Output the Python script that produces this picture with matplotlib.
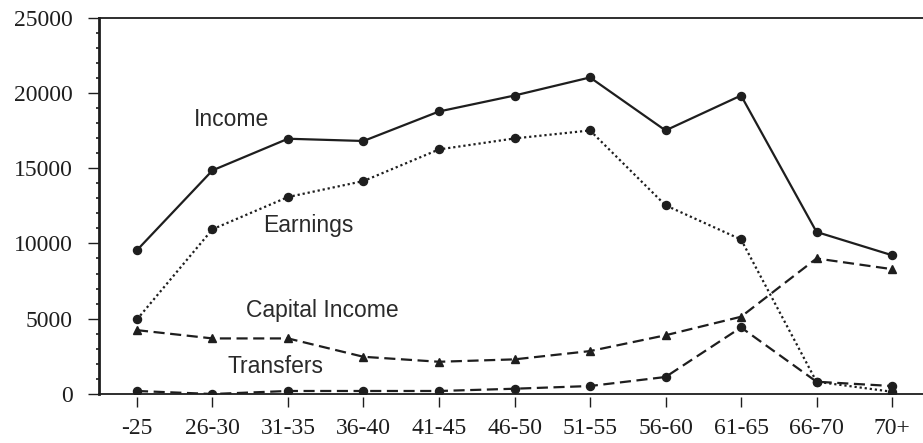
import matplotlib.pyplot as plt
import numpy as np
from matplotlib.ticker import MultipleLocator

# tranches d'âge
ages = ["-25", "26-30", "31-35", "36-40", "41-45", "46-50",
        "51-55", "56-60", "61-65", "66-70", "70+"]

revenu = [9550, 14850, 16950, 16800, 18760, 19820, 21020, 17500, 19820, 10760, 9215]
salaires = [4950, 10940, 13080, 14140, 16240, 16970, 17500, 12530, 10260, 815, 150]
capital = [4240, 3690, 3690, 2470, 2140, 2300, 2850, 3900, 5130, 9000, 8290]
transferts = [200, 0, 200, 200, 200, 350, 530, 1130, 4420, 815, 530]

noir = "#1e1e1e"

fig = plt.figure(figsize=(9.23, 4.43), dpi=100)
ax = fig.add_axes([99 / 923, 49 / 443, 1 - 99 / 923, (394 - 17.5) / 443])

x = np.arange(len(ages))
ax.plot(x, revenu, color=noir, lw=1.6, ls="-", marker="o", ms=5.8)
ax.plot(x, salaires, color=noir, lw=1.6, ls=(0, (1, 1.3)), marker="o", ms=5.8)
ax.plot(x, capital, color=noir, lw=1.6, ls=(0, (5, 2.5)), marker="^", ms=6.2)
ax.plot(x, transferts, color=noir, lw=1.6, ls=(0, (5, 2.5)), marker="o", ms=5.8)

# étiquettes des courbes
etiq = {"family": "Liberation Sans", "fontsize": 16.5, "color": "#2a2a2a"}
ax.text(0.755, 17790, "Income", **etiq)
ax.text(1.67, 10760, "Earnings", **etiq)
ax.text(1.45, 5085, "Capital Income", **etiq)
ax.text(1.205, 1410, "Transfers", **etiq)

ax.set_xlim(-0.503, 10.41)
ax.set_ylim(0, 25000)
ax.set_xticks(x)
ax.set_xticklabels(ages)
ax.set_yticks(np.arange(0, 25001, 5000))
ax.yaxis.set_minor_locator(MultipleLocator(1000))

ax.spines["right"].set_visible(False)
ax.spines["left"].set_linewidth(2)
ax.spines["left"].set_color(noir)
ax.spines["top"].set_linewidth(1.3)
ax.spines["top"].set_color(noir)
# axe du bas : ligne à zéro, graduations décalées vers le bas
ax.spines["bottom"].set_position(("outward", 2.5))
ax.spines["bottom"].set_visible(False)
ax.axhline(0, color=noir, lw=1.3, clip_on=False)

ax.tick_params(axis="y", which="major", direction="out", length=8, width=1, color=noir, pad=11,
               labelsize=17, labelcolor=noir, labelfontfamily="Liberation Serif")
ax.tick_params(axis="y", which="minor", direction="out", length=2, width=1.2, color=noir)
ax.tick_params(axis="x", which="major", direction="out", length=7.5, width=1, color=noir, pad=7,
               labelsize=17, labelcolor=noir, labelfontfamily="Liberation Serif")

fig.savefig("out.png", dpi=100)
